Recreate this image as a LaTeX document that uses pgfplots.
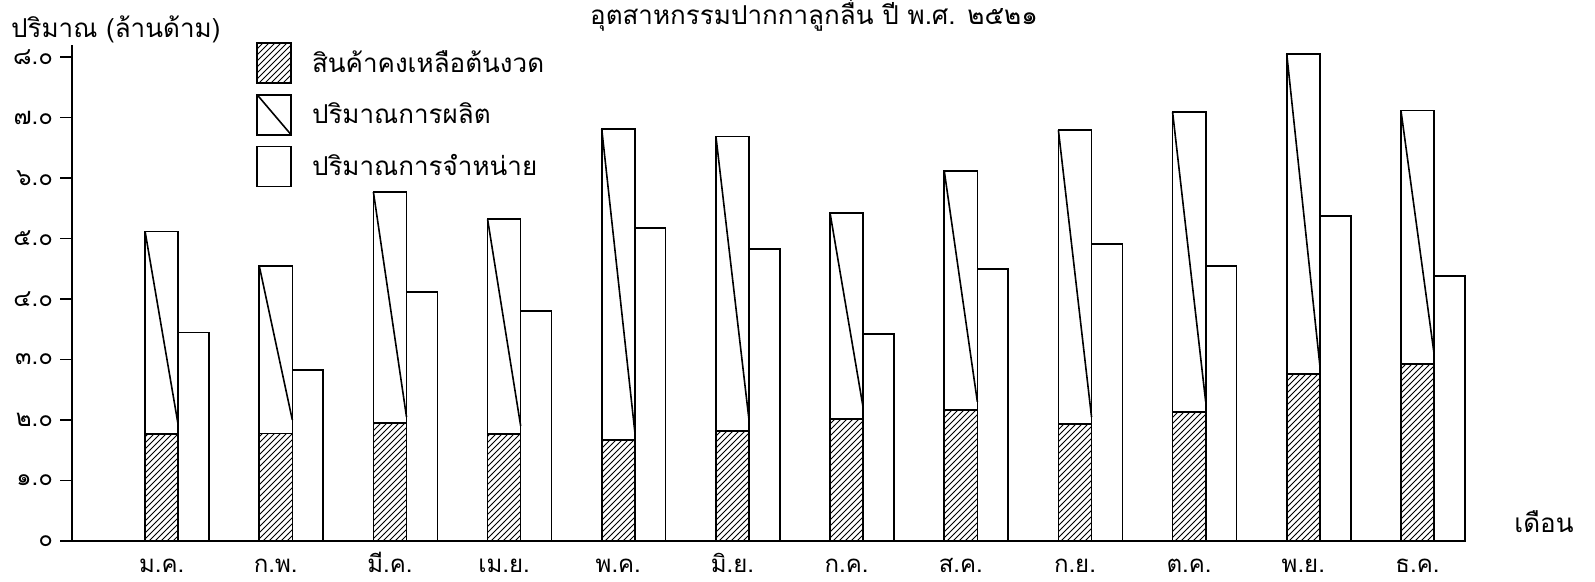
\documentclass[border=0pt]{standalone}
\usepackage{fontspec}
\setmainfont[Script=Thai]{Loma}
\usepackage{pgfplots}
\usepackage{pgfplotstable}
\pgfplotsset{compat=1.18}
\usetikzlibrary{patterns}

\pgfplotstableread{
m px sx inv total sales
0 -0.145 0.135 1.77 5.12 3.45
1 0.855 1.135 1.78 4.55 2.83
2 1.855 2.135 1.95 5.77 4.12
3 2.855 3.135 1.77 5.32 3.80
4 3.855 4.135 1.67 6.81 5.17
5 4.855 5.135 1.82 6.69 4.83
6 5.855 6.135 2.02 5.42 3.42
7 6.855 7.135 2.17 6.12 4.50
8 7.855 8.135 1.93 6.79 4.91
9 8.855 9.135 2.13 7.09 4.55
10 9.855 10.135 2.76 8.05 5.37
11 10.855 11.135 2.93 7.12 4.38
}\datatable

\pgfplotstableread{
x y
-0.29 5.12
0 1.92
nan nan
0.71 4.55
1 2.00
nan nan
1.71 5.77
2 2.05
nan nan
2.71 5.32
3 1.90
nan nan
3.71 6.81
4 1.80
nan nan
4.71 6.69
5 2.00
nan nan
5.71 5.42
6 2.20
nan nan
6.71 6.12
7 2.30
nan nan
7.71 6.79
8 2.05
nan nan
8.71 7.09
9 2.30
nan nan
9.71 8.05
10 2.90
nan nan
10.71 7.12
11 3.10
}\diagtable

\begin{document}
\begin{tikzpicture}
\useasboundingbox (-36pt,-20.5pt) rectangle (761.5pt,270.5pt);
\begin{axis}[
  at={(0pt,0pt)}, anchor=south west,
  scale only axis, width=697pt, height=248pt,
  xmin=-0.93, xmax=11.28, ymin=0, ymax=8.2,
  axis x line=bottom, axis y line=left,
  axis line style={-, line width=1.2pt},
  ytick={0,1,2,3,4,5,6,7,8},
  yticklabels={๐,๑.๐,๒.๐,๓.๐,๔.๐,๕.๐,๖.๐,๗.๐,๘.๐},
  xtick={-0.145,0.855,1.855,2.855,3.855,4.855,5.855,6.855,7.855,8.855,9.855,10.855},
  xticklabels={ม.ค.,ก.พ.,มี.ค.,เม.ย.,พ.ค.,มิ.ย.,ก.ค.,ส.ค.,ก.ย.,ต.ค.,พ.ย.,ธ.ค.},
  x tick style={draw=none},
  y tick style={line width=0.8pt, black},
  tick align=outside, major tick length=6pt,
  ticklabel style={font=\fontsize{12}{14}\selectfont},
  xticklabel style={text height=6pt, text depth=2pt, anchor=north, yshift=0pt},
  clip=false,
  legend style={at={(0.132,1.006)}, anchor=north west, draw=none, fill=none,
    inner sep=0pt, row sep=5pt, font=\fontsize{13}{15}\selectfont,
    cells={anchor=west},
    /tikz/every odd column/.append style={column sep=8pt}},
]
\addlegendimage{legend image code/.code={\draw[pattern=north east lines, line width=0.8pt] (0pt,-10pt) rectangle (17pt,10pt);}}
\addlegendentry{สินค้าคงเหลือต้นงวด}
\addlegendimage{legend image code/.code={\draw[line width=0.8pt] (0pt,-10pt) rectangle (17pt,10pt); \draw[line width=0.8pt] (0pt,10pt) -- (17pt,-10pt);}}
\addlegendentry{ปริมาณการผลิต}
\addlegendimage{legend image code/.code={\draw[line width=0.8pt] (0pt,-10pt) rectangle (17pt,10pt);}}
\addlegendentry{ปริมาณการจำหน่าย}

\addplot[ybar, bar width=0.29, bar shift=0pt, draw=black, fill=white, line width=0.8pt, forget plot]
  table[x=px, y=total]{\datatable};
\addplot[ybar, bar width=0.29, bar shift=0pt, draw=black, pattern=north east lines, line width=0.8pt, forget plot]
  table[x=px, y=inv]{\datatable};
\addplot[ybar, bar width=0.27, bar shift=0pt, draw=black, fill=white, line width=0.8pt, forget plot]
  table[x=sx, y=sales]{\datatable};
\addplot[black, line width=0.8pt, unbounded coords=jump, forget plot, mark=none]
  table[x=x, y=y]{\diagtable};
\end{axis}
\node[anchor=west, font=\fontsize{13}{15}\selectfont] at (-34pt,256pt) {ปริมาณ (ล้านด้าม)};
\node[font=\fontsize{13}{15}\selectfont] at (371pt,263pt) {อุตสาหกรรมปากกาลูกลื่น ปี พ.ศ. ๒๕๒๑};
\node[font=\fontsize{13}{15}\selectfont] at (736pt,9.5pt) {เดือน};
\end{tikzpicture}
\end{document}
